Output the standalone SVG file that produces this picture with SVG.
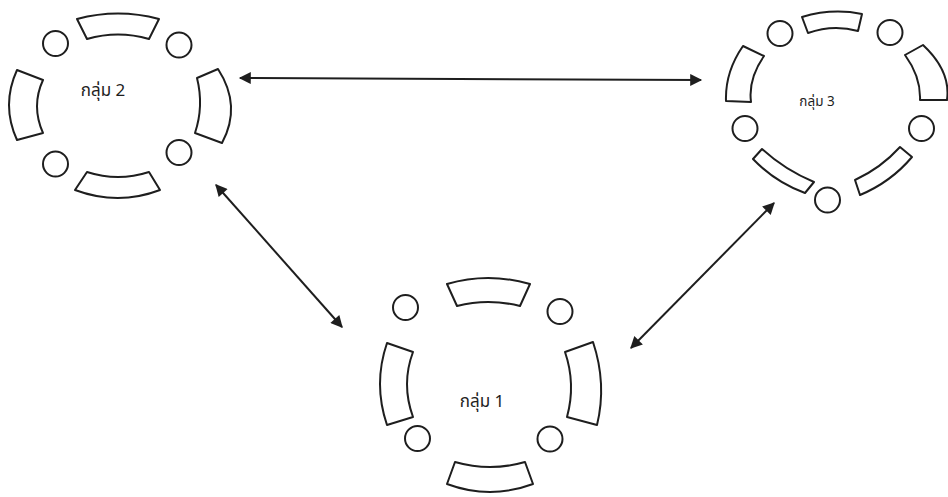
<svg xmlns="http://www.w3.org/2000/svg" width="948" height="497" viewBox="0 0 948 497">
  <style>
    .seg { fill: #ffffff; stroke: #1e1e1e; stroke-width: 2; stroke-linejoin: round; }
    .seat { fill: #ffffff; stroke: #1e1e1e; stroke-width: 2; }
    .lbl { font-family: "Noto Sans Thai", "Liberation Sans", "DejaVu Sans", sans-serif; fill: #1e1e1e; text-anchor: middle; }
    .conn { stroke: #1e1e1e; stroke-width: 2; fill: none; marker-start: url(#ah); marker-end: url(#ah); }
  </style>
  <defs>
    <marker id="ah" viewBox="0 0 10 10" refX="9" refY="5" markerWidth="7.5" markerHeight="6" markerUnits="strokeWidth" orient="auto-start-reverse">
      <path d="M0,0 L10,5 L0,10 Z" fill="#1e1e1e"/>
    </marker>
  </defs>
  <rect width="948" height="497" fill="#ffffff"/>

  <g id="group2">
    <path class="seg" d="M77,19 Q118,8 159,19 L149,39 Q118,30 87,39 Z"/>
    <path class="seg" d="M87,172 Q118,182 149,172 L160,190 Q118,206 75,190 Z"/>
    <path class="seg" d="M17,70 Q1,105 17,140 L43,133 Q31,106 43,80 Z"/>
    <path class="seg" d="M218,69 Q242,106 222,143 L195,133 Q204,106 197,78 Z"/>
    <circle class="seat" cx="55.5" cy="43.5" r="12.5"/>
    <circle class="seat" cx="179" cy="45" r="12.5"/>
    <circle class="seat" cx="55.5" cy="164" r="12.5"/>
    <circle class="seat" cx="179" cy="152.5" r="12.5"/>
    <text class="lbl" x="103" y="96" font-size="17">กลุ่ม 2</text>
  </g>

  <g id="group3">
    <path class="seg" d="M802,17 Q832,8 862,14 L858,31 Q833,24 808,33 Z"/>
    <path class="seg" d="M743,46 Q725,72 726,101 L751,102 Q748,79 764,56 Z"/>
    <path class="seg" d="M923,45 Q951,71 947,100 L920,100 Q921,77 905,55 Z"/>
    <path class="seg" d="M753,159 Q775,182 805,193 L814,182 Q785,170 762,149 Z"/>
    <path class="seg" d="M912,157 Q891,182 860,195 L855,180 Q881,168 900,147 Z"/>
    <circle class="seat" cx="780" cy="33.5" r="12.5"/>
    <circle class="seat" cx="890" cy="32.5" r="12.5"/>
    <circle class="seat" cx="745" cy="128.5" r="12.5"/>
    <circle class="seat" cx="921.5" cy="128.5" r="12.5"/>
    <circle class="seat" cx="827.5" cy="200" r="12.5"/>
    <text class="lbl" x="817" y="106" font-size="13.5">กลุ่ม 3</text>
  </g>

  <g id="group1">
    <path class="seg" d="M447,284 Q488,272 530,284 L520,306 Q488,298 457,306 Z"/>
    <path class="seg" d="M455,462 Q490,472 525,462 L533,484 Q490,500 447,484 Z"/>
    <path class="seg" d="M387,343 Q373,384 387,425 L413,417 Q401,384 413,352 Z"/>
    <path class="seg" d="M593,342 Q607,384 597,425 L567,417 Q576,384 565,352 Z"/>
    <circle class="seat" cx="405.5" cy="307.5" r="12.5"/>
    <circle class="seat" cx="560" cy="311.5" r="12.5"/>
    <circle class="seat" cx="417.5" cy="438.5" r="12.5"/>
    <circle class="seat" cx="550" cy="439" r="12.5"/>
    <text class="lbl" x="482" y="407" font-size="17">กลุ่ม 1</text>
  </g>

  <g id="connectors">
    <line class="conn" x1="240" y1="78" x2="701" y2="80"/>
    <line class="conn" x1="216" y1="185" x2="342" y2="327"/>
    <line class="conn" x1="774" y1="203" x2="631" y2="348"/>
  </g>
</svg>
